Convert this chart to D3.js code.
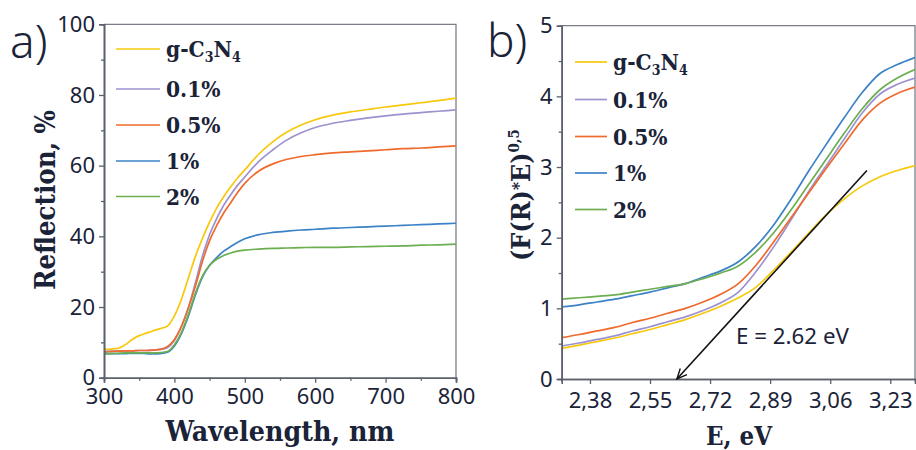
<!DOCTYPE html>
<html>
<head>
<meta charset="utf-8">
<script src="https://cdn.jsdelivr.net/npm/d3@7"></script>
<style>
  body { margin: 0; background: #fff; }
  svg { display: block; }
</style>
</head>
<body>
<svg id="chart" width="916" height="450"></svg>
<script>
// ---- panel a: diffuse reflection ----
const wavelength = [300, 310, 320, 330, 340, 350, 360, 370, 380, 390, 400, 410, 420, 430, 440, 450, 460, 470, 480, 490, 500, 520, 540, 560, 580, 600, 625, 650, 675, 700, 725, 750, 775, 800];
const reflGCN  = [8.0, 8.1, 8.3, 9.3, 10.8, 11.9, 12.6, 13.3, 13.9, 14.6, 17.5, 22.2, 28.3, 34.4, 39.5, 44.0, 48.0, 51.2, 54.0, 56.6, 58.8, 63.3, 66.8, 69.5, 71.5, 73.0, 74.3, 75.2, 75.9, 76.6, 77.2, 77.8, 78.4, 79.1];
const refl01   = [7.4, 7.5, 7.5, 7.6, 7.6, 7.7, 7.7, 7.8, 8.0, 8.5, 10.5, 14.5, 20.0, 27.0, 34.5, 40.5, 45.0, 48.8, 51.8, 54.5, 56.8, 61.2, 64.5, 67.3, 69.3, 70.8, 72.0, 72.8, 73.5, 74.1, 74.6, 75.0, 75.4, 75.8];
const refl05   = [7.3, 7.4, 7.5, 7.6, 7.6, 7.7, 7.7, 7.8, 8.0, 8.8, 10.8, 14.5, 19.8, 26.0, 33.0, 38.8, 43.0, 46.6, 49.5, 52.5, 55.0, 58.5, 60.5, 61.8, 62.6, 63.1, 63.6, 63.9, 64.2, 64.5, 64.8, 65.0, 65.3, 65.6];
const refl1    = [6.9, 6.8, 6.8, 6.8, 6.9, 6.9, 6.8, 6.7, 6.8, 7.2, 9.0, 12.5, 17.5, 23.5, 28.5, 31.8, 34.0, 35.8, 37.1, 38.3, 39.3, 40.5, 41.1, 41.5, 41.8, 42.0, 42.3, 42.5, 42.7, 42.9, 43.1, 43.3, 43.5, 43.7];
const refl2    = [6.7, 6.8, 6.9, 7.0, 7.0, 7.0, 7.0, 7.0, 7.1, 7.4, 9.3, 12.8, 18.0, 24.0, 28.8, 31.8, 33.5, 34.6, 35.3, 35.8, 36.1, 36.4, 36.6, 36.7, 36.8, 36.9, 36.9, 37.0, 37.1, 37.2, 37.3, 37.5, 37.6, 37.8];

// ---- panel b: Kubelka-Munk ----
const energy = [2.30, 2.35, 2.40, 2.45, 2.50, 2.55, 2.60, 2.65, 2.70, 2.75, 2.80, 2.85, 2.90, 2.95, 3.00, 3.05, 3.10, 3.15, 3.20, 3.25, 3.30];
const kmGCN = [0.434, 0.48, 0.53, 0.58, 0.64, 0.70, 0.77, 0.84, 0.93, 1.03, 1.15, 1.30, 1.54, 1.80, 2.07, 2.33, 2.55, 2.73, 2.86, 2.95, 3.02];
const km01  = [0.467, 0.51, 0.56, 0.61, 0.68, 0.74, 0.81, 0.88, 0.97, 1.08, 1.23, 1.52, 1.87, 2.26, 2.66, 3.03, 3.40, 3.76, 4.03, 4.17, 4.26];
const km05  = [0.585, 0.63, 0.68, 0.73, 0.80, 0.86, 0.93, 1.00, 1.09, 1.20, 1.35, 1.61, 1.94, 2.29, 2.64, 2.99, 3.33, 3.66, 3.90, 4.04, 4.13];
const km1   = [1.02, 1.05, 1.09, 1.13, 1.18, 1.23, 1.29, 1.35, 1.44, 1.53, 1.66, 1.88, 2.18, 2.55, 2.95, 3.33, 3.70, 4.05, 4.32, 4.45, 4.55];
const km2   = [1.13, 1.15, 1.17, 1.19, 1.23, 1.27, 1.31, 1.35, 1.42, 1.50, 1.60, 1.80, 2.07, 2.40, 2.76, 3.12, 3.48, 3.82, 4.09, 4.26, 4.38];

// tangent used for the band gap estimate
const tangentE = [3.164, 2.626];
const tangentV = [2.95, 0];
const gapLabel = "E = 2.62 eV";

const seriesNames = ["g-C3N4", "0.1%", "0.5%", "1%", "2%"];
const seriesColors = ["#f8c80c", "#9d92cf", "#ef6a2c", "#3b82c7", "#6cae50"];

const xTicksA = [300, 400, 500, 600, 700, 800];
const xMinorA = [350, 450, 550, 650, 750];
const yTicksA = [0, 20, 40, 60, 80, 100];
const yMinorA = [10, 30, 50, 70, 90];
const xTicksB = [2.38, 2.55, 2.72, 2.89, 3.06, 3.23];
const yTicksB = [0, 1, 2, 3, 4, 5];
const yMinorB = [0.5, 1.5, 2.5, 3.5, 4.5];

const ink = "#1b2338";
const axisCol = "#5b606c";
const tickFont = "'Noto Sans', sans-serif";
const boldFont = "'DejaVu Serif Condensed', 'DejaVu Serif', serif";

const svg = d3.select("#chart");

function fitWidth(text, target) {
  const w = text.node().getComputedTextLength();
  const fs = parseFloat(text.attr("font-size"));
  text.attr("font-size", fs * target / w);
}

function panel(opt) {
  const { x, y, xTicks, xMinor, yTicks, yMinor, fmt, xPad, series, legendX, legendRows, lineLen } = opt;
  const [x0, x1] = x.range();
  const [y0, y1] = y.range();
  const g = svg.append("g");

  const clipId = "clip" + Math.round(x0);
  g.append("clipPath").attr("id", clipId)
    .append("rect").attr("x", x0).attr("y", y1).attr("width", x1 - x0).attr("height", y0 - y1);

  // frame top/right
  g.append("path")
    .attr("d", `M${x0},${y1}H${x1}V${y0}`)
    .attr("fill", "none").attr("stroke", "#7a7e88").attr("stroke-width", 1.3);

  const line = d3.line().x(d => x(d[0])).y(d => y(d[1])).curve(d3.curveMonotoneX);
  g.append("g").attr("clip-path", `url(#${clipId})`)
    .selectAll("path").data(series).join("path")
      .attr("fill", "none")
      .attr("stroke", (d, i) => seriesColors[i])
      .attr("stroke-width", 1.7)
      .attr("d", d => line(d));

  // axes
  const styleAxis = sel => {
    sel.select(".domain").attr("stroke", axisCol).attr("stroke-width", 1.6);
    sel.selectAll(".tick line").attr("stroke", axisCol).attr("stroke-width", 1.3);
    sel.selectAll("text").attr("fill", ink).attr("font-family", tickFont).attr("font-size", 22);
  };
  g.append("g").attr("transform", `translate(0,${y0})`)
    .call(d3.axisBottom(x).tickValues(xMinor).tickSize(3).tickFormat(""))
    .call(styleAxis);
  g.append("g").attr("transform", `translate(${x0},0)`)
    .call(d3.axisLeft(y).tickValues(yMinor).tickSize(3).tickFormat(""))
    .call(styleAxis);
  g.append("g").attr("transform", `translate(0,${y0})`)
    .call(d3.axisBottom(x).tickValues(xTicks).tickSize(5).tickPadding(xPad).tickFormat(fmt))
    .call(styleAxis);
  g.append("g").attr("transform", `translate(${x0},0)`)
    .call(d3.axisLeft(y).tickValues(yTicks).tickSize(5).tickPadding(4).tickFormat(d3.format("d")))
    .call(styleAxis);

  // legend
  const lg = g.append("g");
  seriesNames.forEach((name, i) => {
    const ly = legendRows[i];
    lg.append("line")
      .attr("x1", legendX).attr("x2", legendX + lineLen)
      .attr("y1", ly).attr("y2", ly)
      .attr("stroke", seriesColors[i]).attr("stroke-width", 1.7);
    const t = lg.append("text")
      .attr("x", legendX + lineLen + 6).attr("y", ly + 8)
      .attr("fill", ink).attr("font-family", boldFont).attr("font-weight", "bold")
      .attr("font-stretch", "condensed").attr("font-size", 22.5);
    if (name === "g-C3N4") {
      t.append("tspan").text("g-C");
      t.append("tspan").attr("font-size", 14).attr("dy", 5).text("3");
      t.append("tspan").attr("dy", -5).text("N");
      t.append("tspan").attr("font-size", 14).attr("dy", 5).text("4");
    } else {
      t.text(name);
    }
  });
  return g;
}

// ---------- panel a ----------
const xA = d3.scaleLinear().domain([300, 800]).range([104, 456]);
const yA = d3.scaleLinear().domain([0, 100]).range([377.7, 24.3]);
const reflSeries = [reflGCN, refl01, refl05, refl1, refl2].map(s => s.map((v, i) => [wavelength[i], v]));
panel({
  x: xA, y: yA, xTicks: xTicksA, xMinor: xMinorA, yTicks: yTicksA, yMinor: yMinorA,
  fmt: d3.format("d"), xPad: 6, series: reflSeries,
  legendX: 116, legendRows: [49, 89, 125, 161, 196.5], lineLen: 44
});

// ---------- panel b ----------
const xB = d3.scaleLinear().domain([2.30, 3.30]).range([561.7, 915]);
const yB = d3.scaleLinear().domain([0, 5]).range([379, 25.7]);
const kmSeries = [kmGCN, km01, km05, km1, km2].map(s => s.map((v, i) => [energy[i], v]));
const gB = panel({
  x: xB, y: yB, xTicks: xTicksB, xMinor: [], yTicks: yTicksB, yMinor: yMinorB,
  fmt: d => d3.format(".2f")(d).replace(".", ","), xPad: 8, series: kmSeries,
  legendX: 575, legendRows: [62, 99.5, 136.5, 173, 209.5], lineLen: 32
});

// tangent arrow
svg.append("defs").append("marker")
  .attr("id", "arrow").attr("viewBox", "0 0 12 12")
  .attr("refX", 11).attr("refY", 6)
  .attr("markerWidth", 12).attr("markerHeight", 12)
  .attr("markerUnits", "userSpaceOnUse")
  .attr("orient", "auto")
  .append("path").attr("d", "M1,1.5L11,6L1,10.5")
  .attr("fill", "none").attr("stroke", "#111").attr("stroke-width", 1.4);
gB.append("line")
  .attr("x1", xB(tangentE[0])).attr("y1", yB(tangentV[0]))
  .attr("x2", xB(tangentE[1])).attr("y2", yB(tangentV[1]))
  .attr("stroke", "#111").attr("stroke-width", 1.6)
  .attr("marker-end", "url(#arrow)");
const gap = gB.append("text")
  .attr("x", 736).attr("y", 344)
  .attr("fill", ink).attr("font-family", tickFont).attr("font-size", 19)
  .text(gapLabel);
fitWidth(gap, 113);

// ---------- titles ----------
const titleA = svg.append("text")
  .attr("x", 280).attr("y", 441).attr("text-anchor", "middle")
  .attr("fill", ink).attr("font-family", boldFont).attr("font-weight", "bold")
  .attr("font-stretch", "condensed").attr("font-size", 27)
  .text("Wavelength, nm");
fitWidth(titleA, 229);

const titleB = svg.append("text")
  .attr("x", 739).attr("y", 445).attr("text-anchor", "middle")
  .attr("fill", ink).attr("font-family", boldFont).attr("font-weight", "bold")
  .attr("font-stretch", "condensed").attr("font-size", 27)
  .text("E, eV");
fitWidth(titleB, 66);

const ylabA = svg.append("text")
  .attr("transform", "translate(55,200) rotate(-90)").attr("text-anchor", "middle")
  .attr("fill", ink).attr("font-family", boldFont).attr("font-weight", "bold")
  .attr("font-stretch", "condensed").attr("font-size", 27)
  .text("Reflection, %");
fitWidth(ylabA, 180);

const ylabB = svg.append("text")
  .attr("transform", "translate(530,195) rotate(-90)").attr("text-anchor", "middle")
  .attr("fill", ink).attr("font-family", boldFont).attr("font-weight", "bold")
  .attr("font-stretch", "condensed").attr("font-size", 25);
ylabB.append("tspan").text("(F(R)");
ylabB.append("tspan").attr("dy", -6).attr("font-size", 17).text("*");
ylabB.append("tspan").attr("dy", 6).text("E)");
ylabB.append("tspan").attr("dy", -11).attr("font-size", 15).text("0,5");
fitWidth(ylabB, 134);

// panel letters
svg.append("text").attr("x", 10).attr("y", 58)
  .attr("fill", ink).attr("font-family", tickFont).attr("font-weight", 300).attr("font-size", 46)
  .text("a)");
svg.append("text").attr("x", 487).attr("y", 57)
  .attr("fill", ink).attr("font-family", tickFont).attr("font-weight", 300).attr("font-size", 46)
  .text("b)");
</script>
</body>
</html>
